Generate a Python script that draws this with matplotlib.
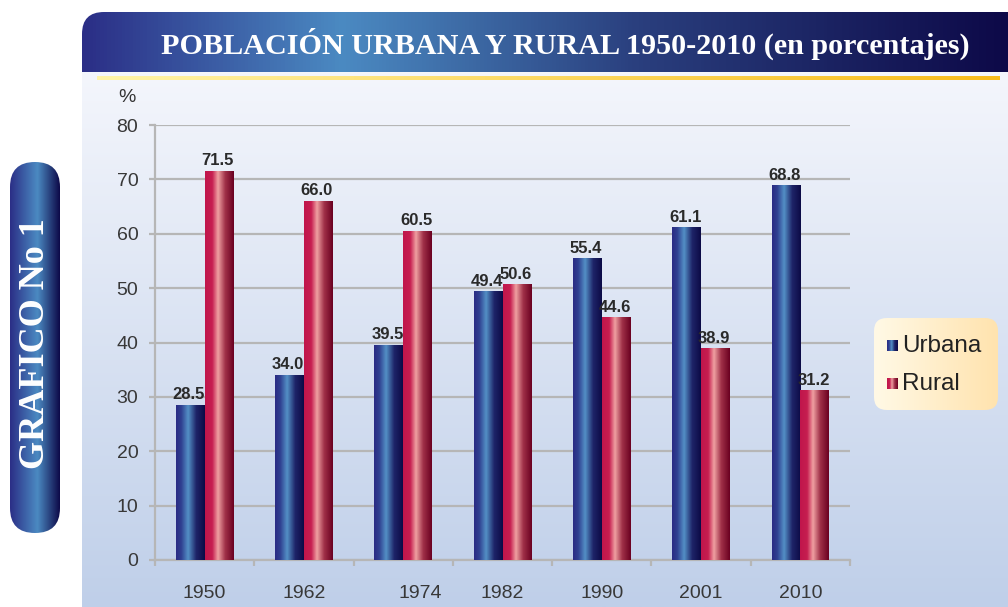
import numpy as np
import matplotlib
matplotlib.use("Agg")
import matplotlib.pyplot as plt
import matplotlib.transforms as mtrans
from matplotlib.colors import LinearSegmentedColormap
from matplotlib.patches import FancyBboxPatch, PathPatch
from matplotlib.path import Path

# ---------------- data ----------------
years = ["1950", "1962", "1974", "1982", "1990", "2001", "2010"]
urbana = [28.5, 34.0, 39.5, 49.4, 55.4, 61.1, 68.8]
rural = [71.5, 66.0, 60.5, 50.6, 44.6, 38.9, 31.2]
yticks = [0, 10, 20, 30, 40, 50, 60, 70, 80]
title = "POBLACIÓN URBANA Y RURAL 1950-2010 (en porcentajes)"
side_label = "GRAFICO No 1"
legend_labels = ["Urbana", "Rural"]

# ---------------- styles ----------------
W, H = 1008, 607
cm_urb = LinearSegmentedColormap.from_list(
    "urb", [(0, "#2a2b84"), (0.18, "#2f3f90"), (0.42, "#5390c6"), (0.7, "#1e2468"), (1, "#0c0a46")])
cm_rur = LinearSegmentedColormap.from_list(
    "rur", [(0, "#c0154b"), (0.25, "#c61e50"), (0.45, "#f0a0a2"), (0.7, "#a03048"), (1, "#6a0020")])
cm_banner = LinearSegmentedColormap.from_list(
    "ban", [(0, "#2b2e86"), (0.28, "#4b8ac2"), (0.6, "#2a3f7e"), (1, "#0d0948")])
cm_pill = LinearSegmentedColormap.from_list(
    "pill", [(0, "#2b2e86"), (0.55, "#4b8ac2"), (1, "#0d0948")])
cm_panel = LinearSegmentedColormap.from_list("panel", [(0, "#f4f6fc"), (1, "#bfcfe9")])
cm_yellow = LinearSegmentedColormap.from_list("yel", [(0, "#fff4a8"), (1, "#f8bc1c")])
cm_leg = LinearSegmentedColormap.from_list("leg", [(0, "#fff9e6"), (1, "#ffe3ae")])
hgrad = np.linspace(0, 1, 256).reshape(1, -1)
vgrad = np.linspace(0, 1, 256).reshape(-1, 1)

plt.rcParams["font.family"] = ["Liberation Sans", "DejaVu Sans"]
fig = plt.figure(figsize=(W / 100, H / 100), dpi=100)
fig.patch.set_facecolor("white")

# background axes in pixel coordinates
bg = fig.add_axes([0, 0, 1, 1], zorder=0)
bg.set_xlim(0, W)
bg.set_ylim(H, 0)
bg.axis("off")

# panel gradient
bg.imshow(vgrad, extent=[82, W, H, 72], cmap=cm_panel, aspect="auto", zorder=0)

# banner with rounded top-left corner
r = 22
verts = [(82, 72), (82, 12 + r), (82, 12), (82 + r, 12), (W, 12), (W, 72), (82, 72)]
codes = [Path.MOVETO, Path.LINETO, Path.CURVE3, Path.CURVE3, Path.LINETO, Path.LINETO, Path.CLOSEPOLY]
banner = PathPatch(Path(verts, codes), facecolor="none", edgecolor="none")
bg.add_patch(banner)
im = bg.imshow(hgrad, extent=[82, W, 72, 12], cmap=cm_banner, aspect="auto", zorder=1)
im.set_clip_path(banner)
bg.text(565, 44, title, color="white", fontsize=21.7, fontweight="bold",
        family=["Liberation Serif", "DejaVu Serif"], ha="center", va="center", zorder=2)

# yellow line
bg.imshow(hgrad, extent=[97, 1000, 80, 76], cmap=cm_yellow, aspect="auto", zorder=1)

# side pill
pill = FancyBboxPatch((10, 162), 50, 533 - 162,
                      boxstyle="round,pad=0,rounding_size=25", facecolor="none", edgecolor="none")
bg.add_patch(pill)
im2 = bg.imshow(hgrad, extent=[10, 60, 533, 162], cmap=cm_pill, aspect="auto", zorder=1)
im2.set_clip_path(pill)
bg.text(36, 344, side_label, color="white", fontsize=26, fontweight="bold",
        family=["Liberation Serif", "DejaVu Serif"], rotation=90, ha="center", va="center", zorder=2)

# legend
leg = FancyBboxPatch((874, 318), 124, 92, boxstyle="round,pad=0,rounding_size=13",
                     facecolor="none", edgecolor="none")
bg.add_patch(leg)
im3 = bg.imshow(hgrad, extent=[874, 998, 410, 318], cmap=cm_leg, aspect="auto", zorder=1)
im3.set_clip_path(leg)
for i, (lab, cm) in enumerate(zip(legend_labels, [cm_urb, cm_rur])):
    yc = 346 + i * 38
    bg.imshow(hgrad, extent=[887, 898, yc + 5.5, yc - 5.5], cmap=cm, aspect="auto", zorder=2)
    bg.text(902, yc, lab, fontsize=17.5, color="#222222", ha="left", va="center", zorder=2)

# "%" label
bg.text(127, 98, "%", fontsize=14, color="#333333", ha="center", va="center")

# ---------------- main chart ----------------
ax = fig.add_axes([155 / W, 1 - 560 / H, (850 - 155) / W, (560 - 125) / H], zorder=1)
ax.patch.set_alpha(0)
x = np.arange(len(years)) + 0.5
bw = 0.29
bars_u = ax.bar(x - bw / 2, urbana, bw, color="none", edgecolor="none")
bars_r = ax.bar(x + bw / 2, rural, bw, color="none", edgecolor="none")
for bars, cm in [(bars_u, cm_urb), (bars_r, cm_rur)]:
    for b in bars:
        x0, y0, w, h = b.get_x(), b.get_y(), b.get_width(), b.get_height()
        ax.imshow(hgrad, extent=[x0, x0 + w, y0, y0 + h], cmap=cm, aspect="auto", zorder=3)
        ax.annotate(f"{h:.1f}", (x0 + w / 2, h), xytext=(-1, 2), textcoords="offset points",
                    ha="center", va="bottom", fontsize=12, fontweight="bold", color="#2a2a2a",
                    zorder=4)

ax.set_xlim(0, len(years))
ax.set_ylim(0, 80)
ax.set_yticks(yticks)
ax.set_yticklabels([str(v) for v in yticks])
ax.yaxis.grid(True, color="#b6b6b6", lw=1.6)
ax.set_axisbelow(True)
for s in ["top", "right"]:
    ax.spines[s].set_visible(False)
for s in ["left", "bottom"]:
    ax.spines[s].set_color("#b6b6b6")
    ax.spines[s].set_linewidth(1.6)
ax.tick_params(axis="y", length=4, width=1.6, color="#b6b6b6", pad=8,
               labelsize=14, labelcolor="#383838")
ax.set_xticks(np.arange(len(years) + 1))
ax.set_xticklabels([])
ax.set_xticks(x, minor=True)
ax.set_xticklabels(years, minor=True)
ax.tick_params(axis="x", which="major", length=4, width=1.6, color="#b6b6b6")
ax.tick_params(axis="x", which="minor", length=0, pad=18, labelsize=14, labelcolor="#383838")
# the 1974 label sits a bit to the right in the original
for lbl in ax.xaxis.get_minorticklabels():
    if lbl.get_text() == "1974":
        lbl.set_transform(lbl.get_transform() + mtrans.ScaledTranslation(17 / 100, 0, fig.dpi_scale_trans))

fig.savefig("out.png", dpi=100)
